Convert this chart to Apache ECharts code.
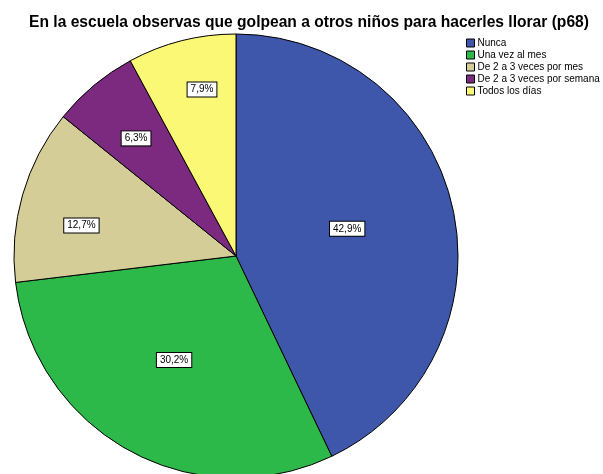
<!DOCTYPE html>
<html><head><meta charset="utf-8">
<script src="https://cdn.jsdelivr.net/npm/echarts@6/dist/echarts.min.js"></script>
<style>html,body{margin:0;padding:0;background:#fff}#c{width:603px;height:474px}</style>
</head><body><div id="c"></div>
<script>
var titleText = 'En la escuela observas que golpean a otros niños para hacerles llorar (p68)';
var categories = ['Nunca', 'Una vez al mes', 'De 2 a 3 veces por mes', 'De 2 a 3 veces por semana', 'Todos los días'];
var percents = [42.9, 30.2, 12.7, 6.3, 7.9];
var colors = ['#3E57AB', '#2DB84A', '#D4CD98', '#7B2A7F', '#FBF876'];
// label nudges (px) from the default inside position, style only
var labelOffsets = [[0, -2], [-7, 4], [-45, 1], [-27, -30], [-6, -56]];
var CX = 236, CY = 256, R = 222;

var chart = echarts.init(document.getElementById('c'));
chart.setOption({
  animation: false,
  title: {
    text: titleText, left: 304, top: 10, textAlign: 'center',
    textStyle: {fontFamily: 'Liberation Sans', fontWeight: 'bold', fontSize: 15.6, color: '#000'}
  },
  legend: {
    orient: 'vertical', left: 461, top: 32, icon: 'rect',
    itemWidth: 8, itemHeight: 8, itemGap: 0,
    itemStyle: {borderColor: '#000', borderWidth: 1},
    textStyle: {fontFamily: 'Liberation Sans', fontSize: 10, lineHeight: 12, color: '#000', padding: [0, 0, 0, -2]},
    data: categories
  },
  color: colors,
  series: [{
    type: 'pie', center: [CX, CY], radius: R, startAngle: 90, clockwise: true,
    itemStyle: {borderColor: '#000', borderWidth: 1},
    label: {
      position: 'inside', fontFamily: 'Liberation Sans', fontSize: 10, color: '#000',
      backgroundColor: '#fff', borderColor: '#000', borderWidth: 1, padding: [2, 3, 2, 3],
      formatter: function (p) { return p.value.toFixed(1).replace('.', ',') + '%'; }
    },
    labelLayout: function (p) {
      var o = labelOffsets[p.dataIndex];
      return {dx: o[0], dy: o[1]};
    },
    labelLine: {show: false},
    emphasis: {disabled: true},
    data: categories.map(function (c, i) { return {name: c, value: percents[i]}; })
  }]
});
</script></body></html>
